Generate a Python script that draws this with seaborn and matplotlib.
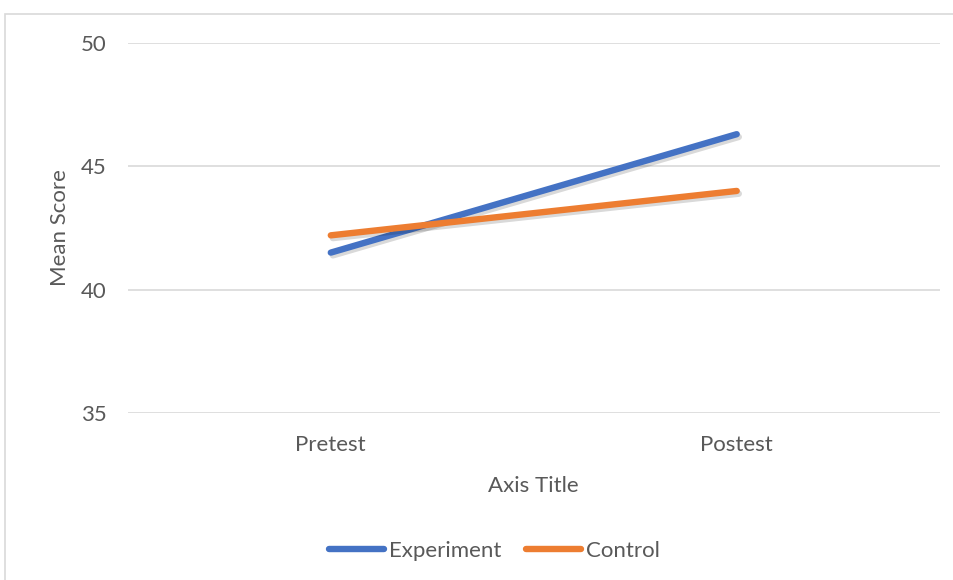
import matplotlib
matplotlib.use("Agg")
import matplotlib.pyplot as plt
import matplotlib.patheffects as pe
from matplotlib.patches import Rectangle
import pandas as pd
import seaborn as sns

# Data
tests = ["Pretest", "Postest"]
experiment = [41.5, 46.3]
control = [42.2, 44.0]
groups = ["Experiment", "Control"]
y_ticks = [35, 40, 45, 50]

df = pd.DataFrame({
    "Test": tests * 2,
    "Score": experiment + control,
    "Group": [groups[0]] * len(tests) + [groups[1]] * len(tests),
})

sns.set_style("white")
plt.rcParams["font.family"] = ["Lato", "DejaVu Sans"]
text_color = "#595959"
fs = 16

fig = plt.figure(figsize=(9.54, 5.80), dpi=100)
ax = fig.add_axes([0.134, 0.288, 0.851, 0.638])

# Chart area border
fig.patches.append(Rectangle((5 / 954, -0.05), 1.1, 1 - 14 / 580 + 0.05,
                             transform=fig.transFigure, fill=False,
                             edgecolor="#d9d9d9", linewidth=1.2, zorder=0))

palette = {"Experiment": "#4472C4", "Control": "#ED7D31"}
sns.lineplot(data=df, x="Test", y="Score", hue="Group", hue_order=groups,
             palette=palette, linewidth=4.6, ax=ax, sort=False,
             solid_capstyle="round", legend=False)

shadow = [pe.SimpleLineShadow(offset=(1.5, -2), shadow_color="black", alpha=0.15),
          pe.Normal()]
for line in ax.lines:
    line.set_path_effects(shadow)

ax.set_xlim(-0.5, 1.5)
ax.set_ylim(35, 50)
ax.set_yticks(y_ticks)
ax.yaxis.grid(True, color="#d9d9d9", linewidth=1.2)
ax.set_axisbelow(True)
for s in ax.spines.values():
    s.set_visible(False)
ax.tick_params(axis="both", length=0, labelsize=fs, labelcolor=text_color)
ax.tick_params(axis="y", pad=15)
ax.tick_params(axis="x", pad=16)

ax.set_xlabel("Axis Title", fontsize=fs, color=text_color, labelpad=15)
ax.set_ylabel("Mean Score", fontsize=fs, color=text_color, labelpad=8)

handles = [plt.Line2D([], [], color=palette[g], linewidth=4.6,
                      solid_capstyle="round") for g in groups]
fig.legend(handles, groups, loc="center", bbox_to_anchor=(0.518, 1 - 551 / 580),
           ncol=2, frameon=False, fontsize=fs, handlelength=2.5,
           handletextpad=0.2, columnspacing=1.1, labelcolor=text_color)

fig.savefig("out.png", dpi=100, facecolor="white")
